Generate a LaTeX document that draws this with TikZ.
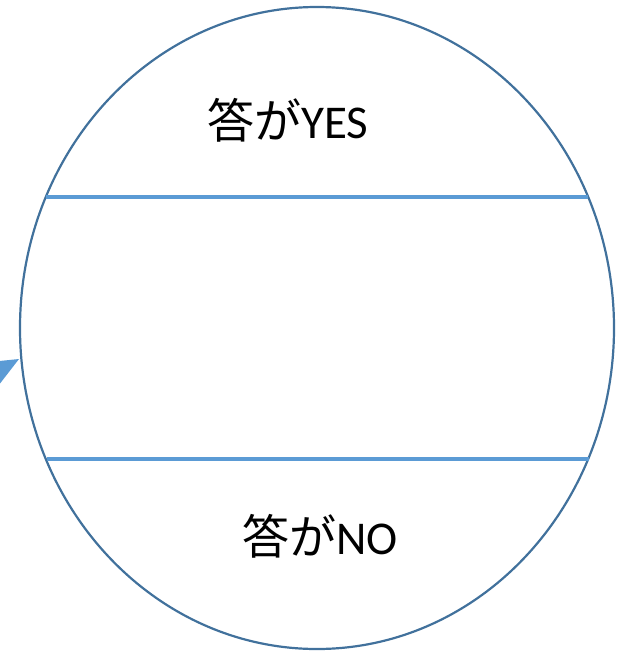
\documentclass[tikz,border=0pt]{standalone}
\usepackage{fontspec}
\usetikzlibrary{shapes.geometric}
\setmainfont{Carlito}
\newfontfamily\cjk{Noto Sans CJK JP}
\definecolor{rim}{HTML}{41719C}
\definecolor{band}{HTML}{5B9BD5}
\begin{document}
\begin{tikzpicture}[x=1pt,y=-1pt,
  rimline/.style={draw=rim,line width=2.2pt},
  bandline/.style={draw=band,line width=3.2pt},
  lbl/.style={font=\fontsize{47}{56}\selectfont,anchor=base,inner sep=0pt}]
\useasboundingbox (0,0) rectangle (618,651);
\clip (0,0) rectangle (618,651);
\node[rimline,ellipse,minimum width=594pt,minimum height=642pt,inner sep=0pt] (oval) at (317,328) {};
\coordinate (a1) at (46,197);
\coordinate (a2) at (588,197);
\coordinate (b1) at (47,459);
\coordinate (b2) at (589,459);
\draw[bandline] (a1) -- (a2);
\draw[bandline] (b1) -- (b2);
\node[lbl] (yes) at (288,138) {{\cjk 答が}YES};
\node[lbl] (no) at (320,554) {{\cjk 答が}NO};
\coordinate (tip) at (19,359);
\fill[band] (tip) -- (-30,364) -- (-5,390) -- cycle;
\end{tikzpicture}
\end{document}
